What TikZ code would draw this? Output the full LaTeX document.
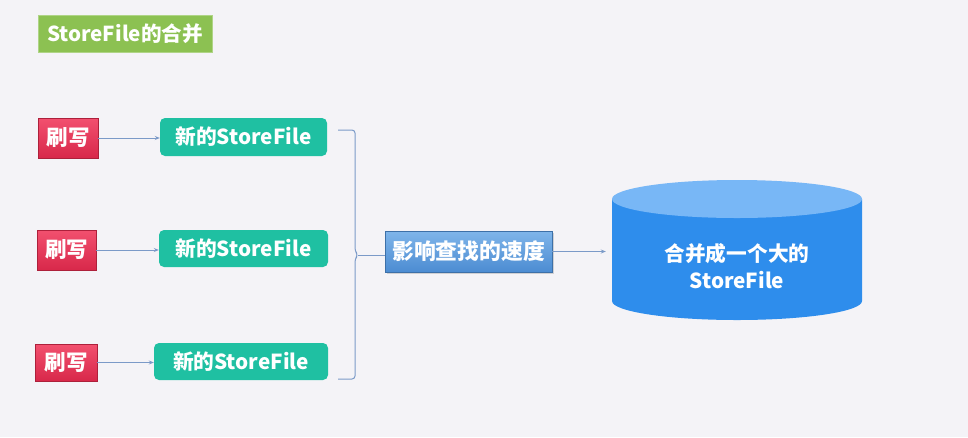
\documentclass[tikz,border=0pt]{standalone}
\usepackage{fontspec}
\setmainfont{Noto Sans CJK SC}
\usetikzlibrary{arrows.meta,shadows}
\definecolor{bg}{HTML}{F4F3F7}
\definecolor{titlegreen}{HTML}{8CC152}
\definecolor{redtop}{HTML}{F2506F}
\definecolor{redbot}{HTML}{D8284A}
\definecolor{teal}{HTML}{1FC0A2}
\definecolor{bluetop}{HTML}{7FB5EA}
\definecolor{bluebot}{HTML}{4C8CD2}
\definecolor{cylbody}{HTML}{2E8DEC}
\definecolor{cyltop}{HTML}{78B7F6}
\definecolor{linkcol}{HTML}{7B9AC8}
\tikzset{
  titlebox/.style={fill=titlegreen,draw=titlegreen!70!white,line width=1pt,text=white,font=\fontsize{20.6}{24}\selectfont\bfseries,inner sep=0pt},
  flushbox/.style={top color=redtop,bottom color=redbot,draw=redbot!80!black,line width=0.4pt,text=white,font=\fontsize{21.5}{24}\selectfont\bfseries,inner sep=0pt,drop shadow={opacity=0.25,shadow xshift=1pt,shadow yshift=-1pt}},
  filebox/.style={fill=teal,rounded corners=5pt,text=white,font=\fontsize{20.7}{24}\selectfont\bfseries,inner sep=0pt},
  slowbox/.style={top color=bluetop,bottom color=bluebot,draw=bluebot!80!black,line width=0.4pt,text=white,font=\fontsize{21.8}{24}\selectfont\bfseries,inner sep=0pt,drop shadow={opacity=0.3,shadow xshift=1.5pt,shadow yshift=-1.5pt}},
  link/.style={draw=linkcol,line width=1pt,-{Stealth[length=5pt,width=4pt]}},
  plainlink/.style={draw=linkcol,line width=1pt},
}
\begin{document}
\begin{tikzpicture}[x=1pt,y=-1pt]
\fill[bg] (0,0) rectangle (968,437);
\useasboundingbox (0,0) rectangle (968,437);

\node[titlebox,minimum width=174pt,minimum height=37pt] (title) at (125,33.5) {StoreFile的合并};

\node[flushbox,minimum width=60pt,minimum height=40pt] (f1) at (68,138) {刷写};
\node[flushbox,minimum width=59pt,minimum height=40pt] (f2) at (66.5,250) {刷写};
\node[flushbox,minimum width=62pt,minimum height=37pt] (f3) at (66,362.5) {刷写};

\node[filebox,minimum width=167pt,minimum height=38pt] (s1) at (243.5,137) {新的StoreFile};
\node[filebox,minimum width=169pt,minimum height=37pt] (s2) at (243.5,248.5) {新的StoreFile};
\node[filebox,minimum width=174pt,minimum height=37pt] (s3) at (241,361.5) {新的StoreFile};

\draw[link] (f1) -- (s1.west |- f1);
\draw[link] (f2) -- (s2.west |- f2);
\draw[link] (f3) -- (s3.west |- f3);

% brace
\draw[plainlink,rounded corners=3pt] (338,130) -- (355,130) -- (355,251) -- (358,255) -- (355,259) -- (355,379) -- (338,379);
\coordinate (brc) at (358,255);

\node[slowbox,minimum width=167pt,minimum height=41pt] (slow) at (468.5,251.5) {影响查找的速度};
\draw[plainlink] (brc) -- (slow.west |- brc);

% cylinder
\fill[cylbody] (612,199) -- (612,301) arc[start angle=180,end angle=0,x radius=125,y radius=19] -- (862,199) -- cycle;
\fill[cyltop] (737,199) ellipse[x radius=125,y radius=19];
\node[minimum width=250pt,minimum height=140pt,inner sep=0pt] (cyl) at (737,250) {};
\node[text=white,align=center,font=\fontsize{20.7}{27}\selectfont\bfseries,inner sep=0pt] (cyltext) at (737,266) {合并成一个大的\\StoreFile};

\draw[link,shorten >=6pt] (slow.east) -- (cyl.west |- slow.east);
\end{tikzpicture}
\end{document}
